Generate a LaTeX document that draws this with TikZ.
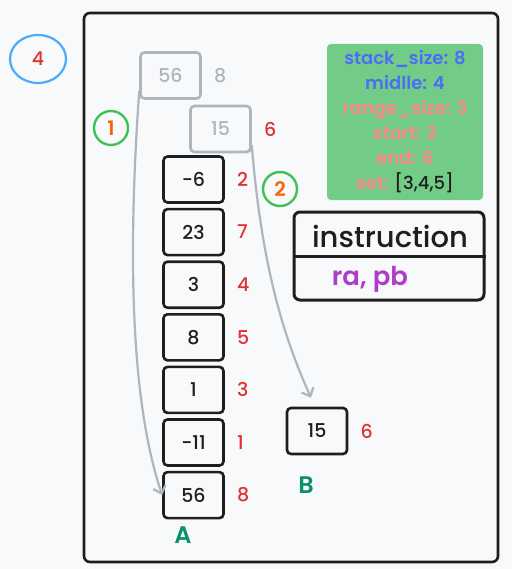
\documentclass[tikz,border=0pt]{standalone}
\usepackage{fontspec}
\setmainfont{Poppins}[UprightFont=* Medium, BoldFont=* SemiBold]
\usepackage{xcolor}
\usetikzlibrary{shapes.geometric, arrows.meta, positioning}

\definecolor{ink}{HTML}{1E1E1E}
\definecolor{paper}{HTML}{F8F9FB}
\definecolor{ghost}{HTML}{ADB5BD}
\definecolor{idxred}{HTML}{E03131}
\definecolor{numorange}{HTML}{F76707}
\definecolor{badgegreen}{HTML}{40C057}
\definecolor{badgeblue}{HTML}{4DABF7}
\definecolor{nameteal}{HTML}{099268}
\definecolor{infogreen}{HTML}{72CC88}
\definecolor{infoblue}{HTML}{4C6EF5}
\definecolor{infosalmon}{HTML}{FF8787}
\definecolor{opspurple}{HTML}{AE3EC9}

\begin{document}
\begin{tikzpicture}[
    x=1pt, y=-1pt,
    node distance=4pt and 11pt,
    cell/.style={draw=#1, line width=2.6pt, rounded corners=4pt, minimum width=60pt,
                 minimum height=46pt, inner sep=0pt, font=\fontsize{19}{19}\selectfont, text=#1},
    cell/.default=ink,
    idx/.style={font=\fontsize{19}{19}\selectfont, text=#1, inner sep=1pt},
    idx/.default=idxred,
    badge/.style={draw=#1, circle, line width=2.4pt, minimum size=34pt, inner sep=0pt,
                  font=\fontsize{20}{20}\selectfont\bfseries, text=numorange},
    badge/.default=badgegreen,
    arrow/.style={-{Straight Barb[length=7pt, width=13pt]}, line width=2.2pt, color=ghost, line cap=round},
    stackname/.style={font=\fontsize{24}{24}\selectfont\bfseries, text=nameteal}
]

% Page
\fill[paper] (0,0) rectangle (512,569);
\useasboundingbox (0,0) rectangle (512,569);

% Frame
\node[draw=ink, line width=2.6pt, rounded corners=6pt, minimum width=414pt, minimum height=549pt] (frame) at (291,287.5) {};

% Step marks
\node[draw=badgeblue, ellipse, line width=2.2pt, minimum width=56pt, minimum height=48pt,
      font=\fontsize{19}{19}\selectfont, text=idxred] (step4) at (38,59) {4};
\node[badge] (step1) at (111,128) {1};
\node[badge] (step2) at (280,189) {2};

% Moved elements (old places)
\node[cell=ghost] (g1) at (170.5,75.5) {56};
\node[idx=ghost, right=of g1] (gi1) {8};
\node[cell=ghost] (g2) at (220.5,129) {15};
\node[idx, right=of g2] (gi2) {6};

% Stack A
\node[cell] (a1) at (193.5,179.5) {-6};
\node[cell, below=of a1] (a2) {23};
\node[cell, below=of a2] (a3) {3};
\node[cell, below=of a3] (a4) {8};
\node[cell, below=of a4] (a5) {1};
\node[cell, below=of a5] (a6) {-11};
\node[cell, below=of a6] (a7) {56};

\node[idx, right=of a1] (i1) {2};
\node[idx, right=of a2] (i2) {7};
\node[idx, right=of a3] (i3) {4};
\node[idx, right=of a4] (i4) {5};
\node[idx, right=of a5] (i5) {3};
\node[idx, right=of a6] (i6) {1};
\node[idx, right=of a7] (i7) {8};

\node[stackname] (nameA) at (183,535) {A};

% Stack B
\node[cell] (b1) at (317,431) {15};
\node[idx, right=of b1] (bi1) {6};
\node[stackname] (nameB) at (306,485) {B};

% Info
\node[fill=infogreen, rounded corners=4pt, minimum width=156pt, minimum height=156pt,
      align=center, font=\fontsize{18}{25}\selectfont\bfseries] (info) at (405,122)
      {\textcolor{infoblue}{stack\_size: 8}\\
       \textcolor{infoblue}{midlle: 4}\\
       \textcolor{infosalmon}{range\_size: 3}\\
       \textcolor{infosalmon}{start: 2}\\
       \textcolor{infosalmon}{end: 6}\\
       \textcolor{infosalmon}{set:} \textcolor{ink}{\mdseries[3,4,5]}};

% Instruction
\node[draw=ink, line width=3pt, rounded corners=6pt, minimum width=190pt, minimum height=88pt] (instr) at (389,256) {};
\draw[line width=3pt, ink] (instr.west) -- (instr.east);
\node[font=\fontsize{29}{29}\selectfont, text=ink] (instrhead) at (390,236) {instruction};
\node[font=\fontsize{26}{26}\selectfont\bfseries, text=opspurple] (ops) at (370,279) {ra, pb};

% Arrows
\draw[arrow] (g1.207) .. controls (128,250) and (130,400) .. (a7.west);
\draw[arrow] (g2.332) .. controls (262,270) and (285,340) .. ([shift={(-6,-9)}]b1.north);

\end{tikzpicture}
\end{document}
